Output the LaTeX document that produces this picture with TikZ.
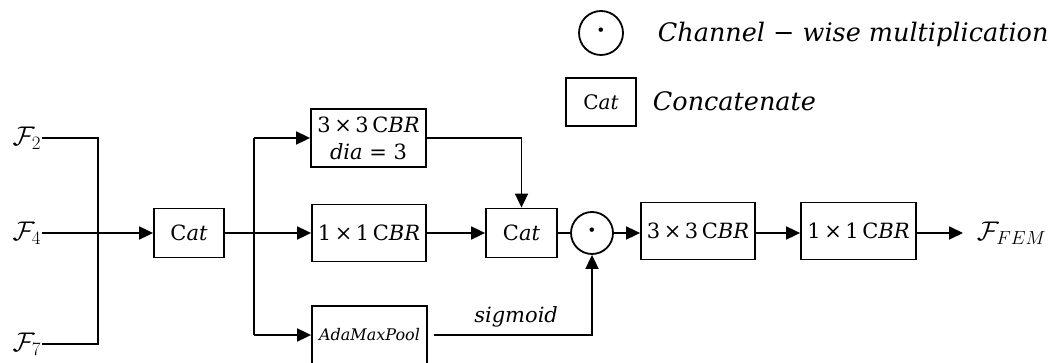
\RequirePackage{fix-cm}
\documentclass[tikz,border=0pt]{standalone}
\usepackage{fontspec}
\setmainfont{DejaVu Serif}
\usetikzlibrary{arrows.meta,calc}
\newcommand{\cbr}[1]{#1\,×\,#1\,C\textit{BR}}
\newcommand{\catlbl}{C\textit{at}}
\begin{document}
\begin{tikzpicture}[x=1pt,y=-1pt, line width=1.8pt,
  arr/.style={-{Triangle[length=14pt,width=13pt]}},
  blk/.style={draw, inner sep=0pt, minimum width=114pt, minimum height=57pt,
    font=\fontsize{21}{27}\selectfont, align=center},
  catbox/.style={blk, minimum width=70pt, minimum height=49pt},
  mulc/.style={draw, circle, inner sep=0pt, minimum size=42pt,
    font=\fontsize{24}{27}\selectfont\bfseries},
  flbl/.style={inner sep=0pt, font=\fontsize{27}{32}\selectfont},
  legtxt/.style={inner sep=0pt, anchor=west, font=\fontsize{25.5}{30}\selectfont\itshape},
  note/.style={inner sep=0pt, font=\fontsize{21}{26}\selectfont\itshape}]
\useasboundingbox (0,0) rectangle (1056,363);
\clip (0,0) rectangle (1056,363);

% legend
\node[mulc, minimum size=44pt] (lmul) at (601,33) {⋅};
\node[legtxt] (lmultxt) at (657,34) {Channel − wise multiplication};
\node[catbox, minimum height=48pt, font=\fontsize{20}{24}\selectfont] (lcat) at (601,102) {\catlbl};
\node[legtxt] (lcattxt) at (652,101) {Concatenate};

% input features
\node[flbl, anchor=east] (f2) at (42,138) {$\mathcal{F}_2$};
\node[flbl, anchor=east] (f4) at (42,233) {$\mathcal{F}_4$};
\node[flbl, anchor=east] (f7) at (42,344) {$\mathcal{F}_7$};
\coordinate (merge) at (98,0);

% blocks
\node[catbox] (cat1) at (189,233) {\catlbl};
\coordinate (split) at (254,0);
\node[blk, minimum width=115pt, minimum height=58pt] (cbrA) at (368.5,138)
  {\cbr{3}\\\textit{dia} = 3};
\node[blk] (cbrB) at (369,233) {\cbr{1}};
\node[blk, minimum width=115pt, minimum height=58pt, font=\fontsize{16}{20}\selectfont\itshape]
  (pool) at (369.5,335) {AdaMaxPool};
\node[catbox, minimum width=71pt] (cat2) at (521.5,233) {\catlbl};
\node[mulc] (mul) at (592,233) {⋅};
\node[blk] (cbrC) at (698,231) {\cbr{3}};
\node[blk, minimum width=115pt] (cbrD) at (858.5,231) {\cbr{1}};
\node[flbl, anchor=west] (ffem) at (976,233) {$\mathcal{F}_{FEM}$};

% connectors
\draw (f2.east) -- (f2.east -| merge) -- (f7.east -| merge) -- (f7.east);
\draw[arr] (f4.east) -- (cat1.west);
\draw[arr] (cat1.east) -- (cbrB.west);
\draw (cbrA.west -| split) -- (pool.west -| split);
\draw[arr] (cbrA.west -| split) -- (cbrA.west);
\draw[arr] (pool.west -| split) -- (pool.west);
\draw[arr] (cbrA.east) -| (cat2.north);
\draw[arr] (cbrB.east) -- (cat2.west);
\draw (cat2.east) -- (mul.west);
\draw[arr] ([xshift=6pt]pool.east) -| (mul.south)
  node[note, pos=0.26, above=7pt] (sig) {sigmoid};
\draw[arr] (mul.east) -- (mul.east -| cbrC.west);
\draw[arr] (mul.east -| cbrC.east) -- (mul.east -| cbrD.west);
\draw[arr] (mul.east -| cbrD.east) -- ([xshift=-13pt]ffem.west);
\end{tikzpicture}
\end{document}
